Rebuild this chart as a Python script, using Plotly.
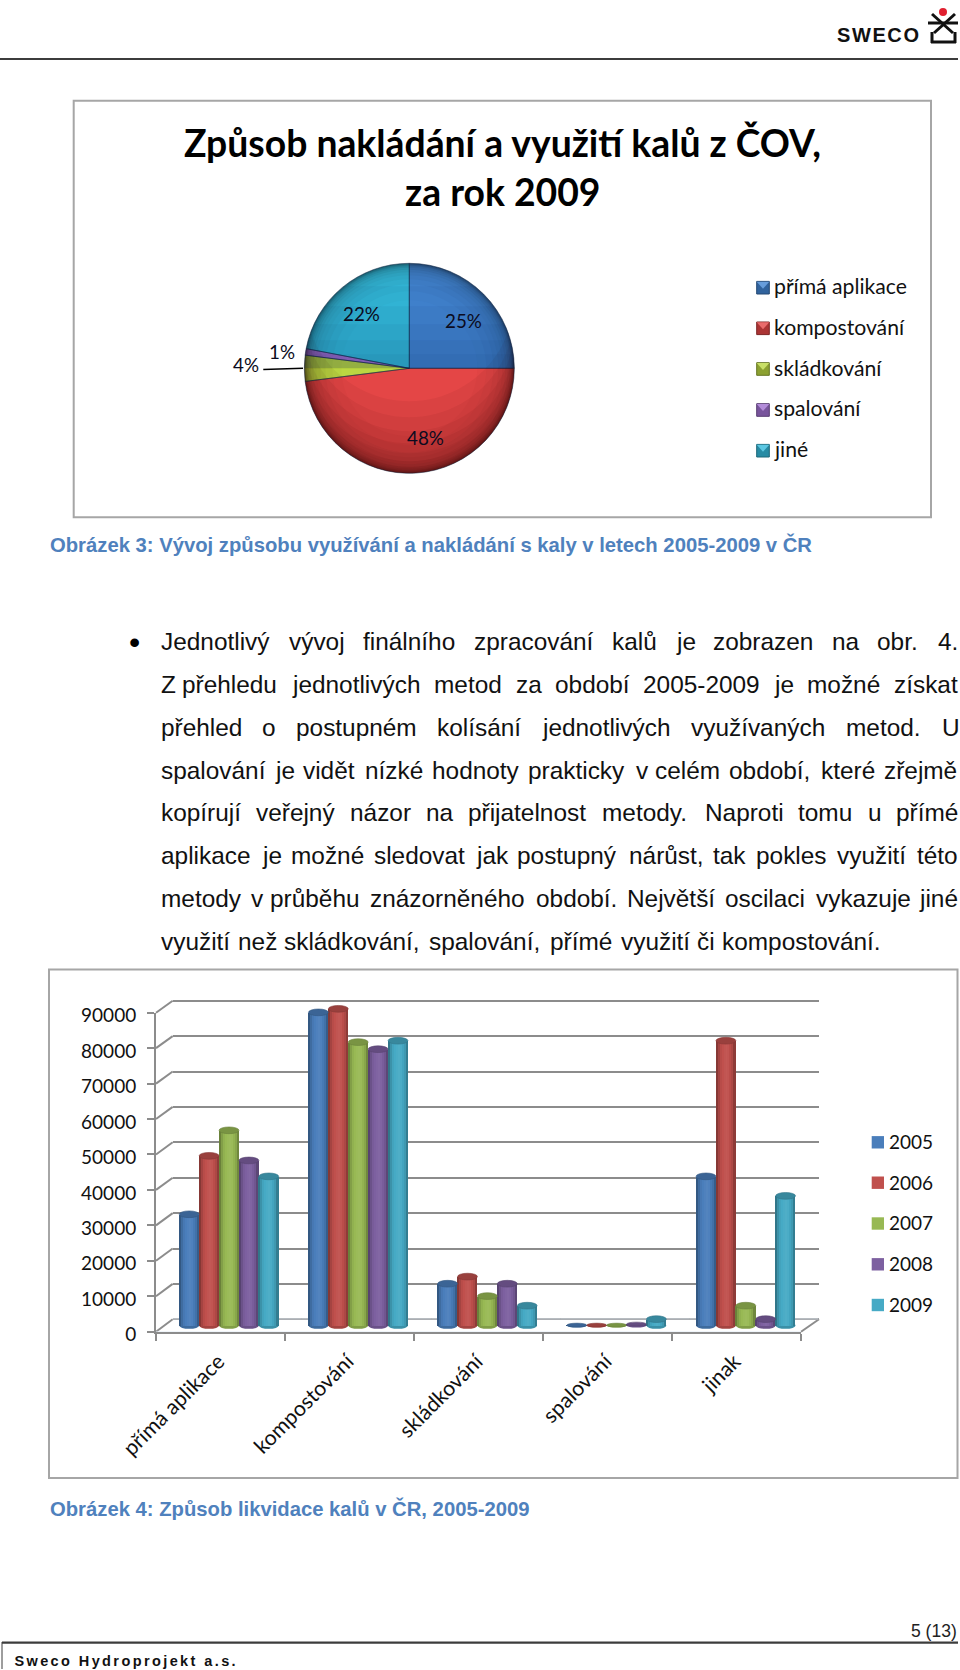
import math
import plotly.graph_objects as go

# ---------- data ----------
pie_title = ["Způsob nakládání a využití kalů z ČOV,", "za rok 2009"]
pie_labels = ["přímá aplikace", "kompostování", "skládkování", "spalování", "jiné"]
pie_values = [25, 48, 4, 1, 22]

categories = ["přímá aplikace", "kompostování", "skládkování", "spalování", "jinak"]
years = ["2005", "2006", "2007", "2008", "2009"]
v2005 = [31400, 88400, 11800, 100, 42100]
v2006 = [47900, 89400, 13800, 100, 80400]
v2007 = [55100, 80000, 8300, 100, 5600]
v2008 = [46600, 78000, 11800, 400, 1800]
v2009 = [42100, 80400, 5600, 1800, 36600]
series = [v2005, v2006, v2007, v2008, v2009]
y_ticks = [0, 10000, 20000, 30000, 40000, 50000, 60000, 70000, 80000, 90000]

paragraph = [
    (642.7, [(162.3, "Jednotlivý"), (290, "vývoj"), (364, "finálního"), (475, "zpracování"), (613.3, "kalů"), (676.7, "je"), (714, "zobrazen"), (833.3, "na"), (878.3, "obr."), (939.3, "4.")]),
    (685.3, [(162.3, "Z"), (183.3, "přehledu"), (292.7, "jednotlivých"), (435, "metod"), (516.7, "za"), (556, "období"), (644, "2005-2009"), (775, "je"), (808.3, "možné"), (895, "získat")]),
    (728, [(162.3, "přehled"), (263.3, "o"), (296.7, "postupném"), (438.3, "kolísání"), (542.7, "jednotlivých"), (691.7, "využívaných"), (846.7, "metod."), (943.3, "U")]),
    (770.7, [(162.3, "spalování"), (275.7, "je"), (304.3, "vidět"), (366, "nízké"), (433.3, "hodnoty"), (529, "prakticky"), (636.7, "v"), (656, "celém"), (730, "období,"), (821.7, "které"), (885, "zřejmě")]),
    (813.3, [(162.3, "kopírují"), (256.7, "veřejný"), (350.7, "názor"), (427.3, "na"), (469.3, "přijatelnost"), (603.3, "metody."), (705.7, "Naproti"), (799.3, "tomu"), (869, "u"), (896.7, "přímé")]),
    (856, [(162.3, "aplikace"), (262.7, "je"), (291.7, "možné"), (375, "sledovat"), (476.7, "jak"), (518.3, "postupný"), (630, "nárůst,"), (714.3, "tak"), (756.7, "pokles"), (838.3, "využití"), (918.3, "této")]),
    (898.7, [(162.3, "metody"), (251.7, "v"), (271, "průběhu"), (370.7, "znázorněného"), (537.3, "období."), (628.3, "Největší"), (726, "oscilaci"), (817.3, "vykazuje"), (920, "jiné")]),
    (941.7, [(162.3, "využití"), (239.3, "než"), (285, "skládkování,"), (430, "spalování,"), (550.7, "přímé"), (621.7, "využití"), (698.3, "či"), (723.3, "kompostování.")]),
]

# ---------- page geometry ----------
W, H = 960, 1670
BAR_COL = ["#4A7EBB", "#C0504D", "#98B954", "#7D60A0", "#46AAC5"]
GRID = "#8C8C8C"
BOX = "#A6A6A6"
CAP = "#4F81BD"
CAL = "Lato, Carlito, sans-serif"
ARIAL = "Liberation Sans, Arial, sans-serif"


def X(p):
    return p / W


def Y(p):
    return 1 - p / H


def shade(hexc, f):
    r, g, b = int(hexc[1:3], 16), int(hexc[3:5], 16), int(hexc[5:7], 16)
    if f <= 1:
        r, g, b = r * f, g * f, b * f
    else:
        t = f - 1
        r, g, b = r + (255 - r) * t, g + (255 - g) * t, b + (255 - b) * t
    return f"rgb({int(r)},{int(g)},{int(b)})"


fig = go.Figure()
shapes, notes = [], []


def line(x0, y0, x1, y1, color, width=1.0):
    shapes.append(dict(type="line", xref="paper", yref="paper", x0=X(x0), y0=Y(y0), x1=X(x1), y1=Y(y1),
                       line=dict(color=color, width=width), layer="below"))


def rect(x0, y0, x1, y1, fill, border=None, bw=0):
    shapes.append(dict(type="rect", xref="paper", yref="paper", x0=X(x0), y0=Y(y0), x1=X(x1), y1=Y(y1),
                       fillcolor=fill, line=dict(color=border or fill, width=bw), layer="below"))


def text(x, y, s, size, family=ARIAL, color="#111111", anchor="left", bold=False):
    notes.append(dict(xref="paper", yref="paper", x=X(x), y=Y(y), text=f"<b>{s}</b>" if bold else s,
                      showarrow=False, xanchor=anchor, yanchor="middle", borderpad=0,
                      font=dict(family=family, size=size, color=color)))


def poly(points, fill):
    d = "M" + " L".join(f"{X(a):.5f},{Y(b):.5f}" for a, b in points) + " Z"
    shapes.append(dict(type="path", xref="paper", yref="paper", path=d, fillcolor=fill, line=dict(width=0), layer="above"))


# ---------- page furniture ----------
line(0, 59, 958, 59, "#3C3C3C", 2)
line(2, 1642.7, 958, 1642.7, "#3C3C3C", 2.2)
line(2, 1642, 2, 1669, "#3C3C3C", 1)
text(878.5, 34.5, "SWECO", 20, ARIAL, "#111111", "center", bold=True)
text(958, 1630.7, "5 (13)", 17.5, ARIAL, "#222222", anchor="right")
text(126, 1660.5, "Sweco Hydroprojekt a.s.", 14.5, ARIAL, "#111111", "center", bold=True)
# logo mark
for a in [(932, 14, 953, 33), (955, 14, 934, 33), (928, 23, 958, 23), (932, 32, 932, 43), (955, 32, 955, 43), (931, 42, 956, 42)]:
    line(*a, "#111111", 3)
shapes.append(dict(type="circle", xref="paper", yref="paper", x0=X(939), x1=X(947), y0=Y(8), y1=Y(16),
                   fillcolor="#E02030", line=dict(width=0), layer="below"))

# ---------- pie chart ----------
rect(73.7, 100.7, 931, 517.3, "white", BOX, 2)
text(502, 142, pie_title[0], 37.3, CAL, "#000000", "center", True)
text(502, 191, pie_title[1], 37.3, CAL, "#000000", "center", True)

PIE_COL = ["#4285D2", "#E44646", "#BBD742", "#A070D0", "#34BADB"]
rings = [(105, 0.52), (104, 0.60), (103, 0.67), (102, 0.73), (100.5, 0.78), (98.5, 0.83),
         (96, 0.87), (93, 0.90), (89, 0.93), (84, 0.96), (77, 0.985), (68, 1.0)]
cx, cy, R = 409.3, 368.3, 105
for r, f in rings:
    fig.add_trace(go.Pie(labels=pie_labels, values=pie_values, sort=False, direction="clockwise", rotation=0,
                         textinfo="none", hoverinfo="skip", showlegend=False,
                         domain=dict(x=[X(cx - r), X(cx + r)], y=[Y(cy + r), Y(cy - r)]),
                         marker=dict(colors=[shade(c, f) for c in PIE_COL], line=dict(width=0))))
fig.add_trace(go.Pie(labels=pie_labels, values=pie_values, sort=False, direction="clockwise", rotation=0,
                     textinfo="none", hoverinfo="label+percent", showlegend=False,
                     domain=dict(x=[X(cx - R), X(cx + R)], y=[Y(cy + R), Y(cy - R)]),
                     marker=dict(colors=["rgba(0,0,0,0)"] * 5, line=dict(color="rgba(20,40,70,0.5)", width=1))))

# soft shading: lower crescents and darkening of the upper half towards the centre line
for s in [6, 12, 20, 30, 42, 56, 72]:
    t0 = math.asin(-(s / 2) / R)
    steps = 40
    outer = [(cx + R * math.cos(t0 + (math.pi - 2 * t0) * i / steps), cy + R * math.sin(t0 + (math.pi - 2 * t0) * i / steps)) for i in range(steps + 1)]
    t1 = math.asin((s / 2) / R)
    inner = [(cx + R * math.cos(math.pi - t1 - (math.pi - 2 * t1) * i / steps), cy - s + R * math.sin(math.pi - t1 - (math.pi - 2 * t1) * i / steps)) for i in range(steps + 1)]
    poly(outer + inner, "rgba(50,0,0,0.055)")
for h in [14, 28, 44, 62, 82]:
    t = math.asin(h / R)
    steps = 24
    right = [(cx + R * math.cos(t * i / steps), cy - R * math.sin(t * i / steps)) for i in range(steps + 1)]
    left = [(cx - R * math.cos(t * i / steps), cy - R * math.sin(t * i / steps)) for i in range(steps, -1, -1)]
    poly(right + left, "rgba(0,20,60,0.045)")

pie_text_pos = [(463, 321), (425.7, 437.7), (246, 364), (282.3, 351.7), (361.7, 314)]
for (px, py), v in zip(pie_text_pos, pie_values):
    text(px, py, f"{v}%", 18.8, CAL, "#0B0B20", "center")
line(263.3, 369.5, 303, 368.3, "#000000", 1.5)

leg1_y = [287.7, 328.3, 369, 410, 450.7]
for c, lab, y in zip(PIE_COL, pie_labels, leg1_y):
    x0, x1 = 756.7, 769.3
    rect(x0, y - 6.3, x1, y + 6.3, shade(c, 0.75), shade(c, 0.55), 1)
    shapes.append(dict(type="path", xref="paper", yref="paper", layer="below", fillcolor=shade(c, 1.2), line=dict(width=0),
                       path=f"M{X(x0)},{Y(y - 6)} L{X(x1)},{Y(y - 6)} L{X((x0 + x1) / 2)},{Y(y + 1)} Z"))
    text(772.7, y - 1.5, lab, 21.2, CAL, "#111111")

text(48.5, 544.5, "Obrázek 3: Vývoj způsobu využívání a nakládání s kaly v letech 2005-2009 v ČR", 20.25, ARIAL, CAP, bold=True)

# ---------- body text ----------
text(134, 642, "•", 32, ARIAL, "#000000", "center")
for y, words in paragraph:
    for x, w in words:
        text(x - 2, y - 0.7, w, 24.4, ARIAL, "#111111")

# ---------- bar chart ----------
rect(49, 969.5, 957.5, 1478, "white", BOX, 2)

# three planes of the pseudo-3D plot: back wall, front axes, bars in between
BACK = dict(l=172.7, r=819, b=1319.3, t=1000.7)
FRONT = dict(l=156, r=801, b=1331.7, t=1012.7)
MID = dict(l=164.4, r=810.4, b=1325.5, t=1006.7)
TOP = max(y_ticks)
pad = 4000
scale = (MID["b"] - MID["t"]) / TOP
bscale = (BACK["b"] - BACK["t"]) / TOP
gpad = 1000

common = dict(showgrid=False, zeroline=False)
layout_axes = dict(
    xaxis=dict(domain=[X(BACK["l"]), X(BACK["r"])], type="category", categoryorder="array", categoryarray=categories,
               visible=False, range=[-0.5, 4.5], anchor="y"),
    yaxis=dict(domain=[Y(BACK["b"] + gpad * bscale), Y(BACK["t"] - gpad * bscale)], range=[-gpad, TOP + gpad],
               tickvals=y_ticks, showgrid=True, gridcolor=GRID, gridwidth=2, zeroline=False, showticklabels=False,
               ticks="", anchor="x", automargin=False),
    xaxis2=dict(domain=[X(FRONT["l"]), X(FRONT["r"])], type="category", categoryorder="array", categoryarray=categories,
                range=[-0.5, 4.5], tickson="boundaries", ticks="outside", ticklen=7, tickwidth=1.5, tickcolor=GRID,
                showline=True, linecolor=GRID, linewidth=2, tickangle=-45, anchor="y2", automargin=False,
                ticklabelshift=-2, ticklabelstandoff=7, tickfont=dict(family=CAL, size=21.2, color="#111111"), **common),
    yaxis2=dict(domain=[Y(FRONT["b"]), Y(FRONT["t"])], range=[0, TOP], tickvals=y_ticks, ticks="outside", ticklen=7,
                tickwidth=1.5, tickcolor=GRID, showline=True, linecolor=GRID, linewidth=2, anchor="x2",
                tickformat="d", automargin=False, ticklabelshift=3,
                ticklabelstandoff=7, tickfont=dict(family=CAL, size=19, color="#111111"), **common),
    xaxis3=dict(domain=[X(MID["l"]), X(MID["r"])], type="category", categoryorder="array", categoryarray=categories,
                range=[-0.5, 4.5], visible=False, anchor="y3"),
    yaxis3=dict(domain=[Y(MID["b"] + pad * scale), Y(MID["t"] - pad * scale)], range=[-pad, TOP + pad], visible=False,
                anchor="x3", **common),
)

# side wall and floor edges
for t in y_ticks:
    f = t / TOP
    line(FRONT["l"], FRONT["b"] + (FRONT["t"] - FRONT["b"]) * f, BACK["l"], BACK["b"] + (BACK["t"] - BACK["b"]) * f, GRID, 2)
line(FRONT["r"], FRONT["b"], BACK["r"], BACK["b"], GRID, 2)

# dummy traces so the back and front axes exist
fig.add_trace(go.Bar(x=categories, y=[0] * 5, xaxis="x", yaxis="y", showlegend=False, hoverinfo="skip"))
fig.add_trace(go.Bar(x=categories, y=[0] * 5, xaxis="x2", yaxis="y2", showlegend=False, hoverinfo="skip"))

# cylinders: each bar is a set of narrow shaded strips
bar_w = 0.154
profile = [0.70, 0.86, 0.96, 1.0, 1.03, 1.05, 1.03, 0.97, 0.90, 0.74]
n = len(profile)
strip = bar_w / n
cap_h = 950
for i, (yr, vals, col) in enumerate(zip(years, series, BAR_COL)):
    x_off = (i - 2.5) * bar_w
    for k, f in enumerate(profile):
        fig.add_trace(go.Bar(x=categories, y=vals, xaxis="x3", yaxis="y3", name=yr, showlegend=False,
                             width=strip * 1.15, offset=x_off + k * strip,
                             marker=dict(color=shade(col, f), line=dict(width=0)),
                             hovertemplate="%{x} " + yr + ": %{y}<extra></extra>"))
    for j, v in enumerate(vals):
        left, right = j + x_off, j + x_off + bar_w
        h = cap_h if v > 1000 else 550
        shapes.append(dict(type="circle", xref="x3", yref="y3", x0=left, x1=right, y0=-h, y1=h, layer="below",
                           fillcolor=shade(col, 0.85), line=dict(width=0)))
        shapes.append(dict(type="circle", xref="x3", yref="y3", x0=left, x1=right, y0=v - h, y1=v + h, layer="above",
                           fillcolor=shade(col, 0.80), line=dict(color=shade(col, 0.7), width=0.6)))

leg2_y = [1142.3, 1182.7, 1223.5, 1264.3, 1305]
for c, yr, y in zip(BAR_COL, years, leg2_y):
    rect(871.7, y - 6.2, 884, y + 6.2, c)
    text(888.2, y - 0.7, yr, 19, CAL, "#111111")

text(48.5, 1508, "Obrázek 4: Způsob likvidace kalů v ČR, 2005-2009", 20.25, ARIAL, CAP, bold=True)

fig.update_layout(width=W, height=H, margin=dict(l=0, r=0, t=0, b=0, autoexpand=False), paper_bgcolor="white",
                  plot_bgcolor="rgba(0,0,0,0)", barmode="overlay", bargap=0, showlegend=False, shapes=shapes,
                  annotations=notes, hovermode="closest", **layout_axes)

post = """
document.body.style.margin='0';
document.documentElement.style.overflow='hidden';
document.querySelectorAll('.annotation-text').forEach(function(t){
  if(t.textContent==='Sweco Hydroprojekt a.s.'){t.style.letterSpacing='2.4px';}
  if(t.textContent==='SWECO'){t.style.letterSpacing='1.6px';}
});
"""
fig.write_html("out.html", post_script=post, config=dict(displayModeBar=False))
